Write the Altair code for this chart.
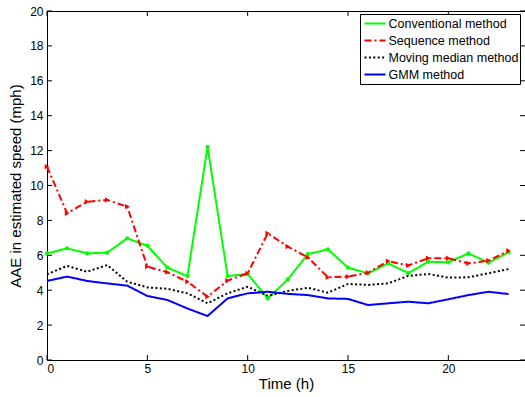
import altair as alt
import pandas as pd

# Average absolute error of estimated speed per hour of day, four estimators
hours = list(range(24))
conventional = [6.11, 6.40, 6.11, 6.15, 6.97, 6.55, 5.29, 4.81, 12.22, 4.81, 4.93, 3.53,
                4.62, 6.07, 6.34, 5.29, 4.97, 5.54, 4.98, 5.63, 5.60, 6.11, 5.58, 6.17]
sequence = [11.08, 8.41, 9.07, 9.17, 8.79, 5.35, 5.03, 4.49, 3.63, 4.55, 4.97, 7.26,
            6.50, 5.88, 4.74, 4.78, 5.00, 5.67, 5.42, 5.83, 5.83, 5.54, 5.69, 6.26]
moving_median = [4.91, 5.39, 5.06, 5.44, 4.49, 4.16, 4.08, 3.82, 3.25, 3.82, 4.20, 3.67,
                 3.96, 4.14, 3.86, 4.36, 4.30, 4.39, 4.82, 4.93, 4.72, 4.74, 4.97, 5.21]
gmm = [4.53, 4.78, 4.53, 4.39, 4.26, 3.67, 3.44, 2.95, 2.52, 3.53, 3.82, 3.91,
       3.79, 3.72, 3.53, 3.50, 3.15, 3.25, 3.34, 3.25, 3.48, 3.72, 3.91, 3.78]

methods = ["Conventional method", "Sequence method", "Moving median method", "GMM method"]
colors = ["#00ff00", "#ff0000", "#000000", "#0000ff"]
dashes = [[1, 0], [7, 3, 2, 3], [2, 2.4], [1, 0]]

x_ticks = [0, 5, 10, 15, 20]
y_ticks = list(range(0, 21, 2))

W, H = 478, 349
X_MAX = 23.82
FONT = "Liberation Sans"

rows = []
for name, vals in zip(methods, [conventional, sequence, moving_median, gmm]):
    for h, v in zip(hours, vals):
        rows.append({"h": h, "aae": v, "method": name})
df = pd.DataFrame(rows)

x_scale = alt.Scale(domain=[0, X_MAX], nice=False, zero=False)
y_scale = alt.Scale(domain=[0, 20], nice=False)
x_axis = alt.Axis(values=x_ticks, title="Time (h)", ticks=False, domain=False,
                  grid=False, labelPadding=3, titlePadding=2)
y_axis = alt.Axis(values=y_ticks, title="AAE in estimated speed (mph)", ticks=False,
                  domain=False, grid=False, labelPadding=4, titlePadding=6)
x_enc = alt.X("h:Q", scale=x_scale, axis=x_axis)
y_enc = alt.Y("aae:Q", scale=y_scale, axis=y_axis)

base = alt.Chart(df)

lines = base.mark_line(strokeWidth=2).encode(
    x=x_enc,
    y=y_enc,
    color=alt.Color("method:N", scale=alt.Scale(domain=methods, range=colors),
                    legend=alt.Legend(title=None, orient="none", legendX=313, legendY=3,
                                      symbolType="stroke", symbolSize=441, symbolStrokeWidth=2,
                                      clipHeight=16, rowPadding=1, padding=1.5,
                                      symbolOffset=2, labelOffset=2,
                                      labelFont=FONT, labelFontSize=12.5, labelColor="#000",
                                      strokeColor="#000", fillColor="#fff", cornerRadius=0,
                                      labelLimit=300)),
    strokeDash=alt.StrokeDash("method:N", scale=alt.Scale(domain=methods, range=dashes),
                              legend=None),
    detail="method:N",
    order="h:Q",
)

dots = base.transform_filter(alt.datum.method == "Conventional method").mark_point(
    shape="circle", filled=True, size=18, color="#00ff00", opacity=1
).encode(x=x_enc, y=y_enc)

tris = base.transform_filter(alt.datum.method == "Sequence method").mark_point(
    shape="triangle-right", filled=True, size=28, color="#ff0000", opacity=1
).encode(x=x_enc, y=y_enc)

# Inward-pointing ticks on all four sides of the box
xt = alt.Chart(pd.DataFrame({"h": x_ticks}))
yt = alt.Chart(pd.DataFrame({"aae": y_ticks}))
tick_style = dict(color="#000", strokeWidth=1)
bottom_ticks = xt.mark_rule(**tick_style).encode(
    x=x_enc, y=alt.value(H), y2=alt.value(H - 5))
top_ticks = xt.mark_rule(**tick_style).encode(
    x=x_enc, y=alt.value(0), y2=alt.value(5))
left_ticks = yt.mark_rule(**tick_style).encode(
    y=y_enc, x=alt.value(0), x2=alt.value(5))
right_ticks = yt.mark_rule(**tick_style).encode(
    y=y_enc, x=alt.value(W), x2=alt.value(W - 5))

chart = alt.layer(
    lines, dots, tris, bottom_ticks, top_ticks, left_ticks, right_ticks
).properties(
    width=W, height=H,
    autosize=alt.AutoSizeParams(type="none"),
    padding={"left": 47, "top": 11, "right": 0, "bottom": 37},
    background="#ffffff",
).configure_view(
    stroke="#000", strokeWidth=1
).configure_axis(
    labelFont=FONT, labelFontSize=12, labelColor="#000",
    titleFont=FONT, titleFontSize=15, titleColor="#000", titleFontWeight="normal",
)

chart.save("out.html", embed_options={"renderer": "svg", "actions": False})
